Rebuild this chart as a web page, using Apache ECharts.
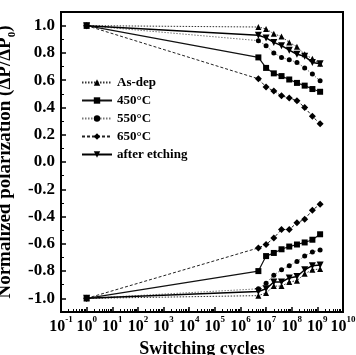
<!DOCTYPE html>
<html><head><meta charset="utf-8">
<script src="https://cdn.jsdelivr.net/npm/echarts@6/dist/echarts.min.js"></script>
<style>html,body{margin:0;padding:0;background:#fff}#c{width:356px;height:355px}</style>
</head><body><div id="c"></div>
<script>
const cycles = [1, 5e6, 1e7, 2e7, 4e7, 8e7, 1.6e8, 3.2e8, 6.4e8, 1.28e9];
const xTickExponents = [-1,0,1,2,3,4,5,6,7,8,9,10];
const yTickLabels = [-1.0,-0.8,-0.6,-0.4,-0.2,0.0,0.2,0.4,0.6,0.8,1.0];
const seriesNames = ['As-dep','450°C','550°C','650°C','after etching'];
const asdepTop = [1.0, 0.99, 0.976, 0.94, 0.92, 0.877, 0.845, 0.79, 0.757, 0.72];
const asdepBot = [-1.0, -0.98, -0.96, -0.91, -0.91, -0.88, -0.87, -0.82, -0.79, -0.785];
const t450Top = [1.0, 0.767, 0.69, 0.65, 0.63, 0.605, 0.58, 0.56, 0.535, 0.515];
const t450Bot = [-1.0, -0.80, -0.69, -0.667, -0.64, -0.62, -0.605, -0.59, -0.57, -0.53];
const t550Top = [1.0, 0.89, 0.853, 0.80, 0.767, 0.75, 0.73, 0.69, 0.645, 0.595];
const t550Bot = [-1.0, -0.93, -0.89, -0.83, -0.79, -0.76, -0.73, -0.69, -0.66, -0.645];
const t650Top = [1.0, 0.61, 0.55, 0.52, 0.485, 0.47, 0.45, 0.40, 0.335, 0.28];
const t650Bot = [-1.0, -0.63, -0.605, -0.557, -0.495, -0.495, -0.446, -0.42, -0.353, -0.31];
const etchTop = [1.0, 0.93, 0.91, 0.877, 0.853, 0.82, 0.79, 0.775, 0.73, 0.72];
const etchBot = [-1.0, -0.95, -0.93, -0.88, -0.88, -0.85, -0.84, -0.79, -0.76, -0.755];

const FONT = '"Liberation Serif", "DejaVu Serif", serif';
const pair = (ys) => cycles.map((x, i) => [x, ys[i]]);
const styles = {
  'As-dep': {symbol: 'triangle', size: 6, line: {type: [1.5,1.5], width: 1, color: '#333'}},
  '450°C': {symbol: 'rect', size: 6, line: {type: 'solid', width: 1.2, color: '#111'}},
  '550°C': {symbol: 'circle', size: 5, line: {type: [1.5,1.5], width: 1, color: '#777'}},
  '650°C': {symbol: 'diamond', size: 7, line: {type: [3,2], width: 1, color: '#222'}},
  'after etching': {symbol: 'triangle', rotate: 180, size: 7, line: {type: 'solid', width: 1.5, color: '#000'}}
};
const dataMap = {
  'As-dep': [asdepTop, asdepBot],
  '450°C': [t450Top, t450Bot],
  '550°C': [t550Top, t550Bot],
  '650°C': [t650Top, t650Bot],
  'after etching': [etchTop, etchBot]
};
const series = [];
seriesNames.forEach(n => {
  dataMap[n].forEach(arr => {
    const s = styles[n];
    series.push({
      name: n, type: 'line', xAxisIndex: 0, yAxisIndex: 0,
      data: pair(arr), symbol: s.symbol, symbolSize: s.size, symbolRotate: s.rotate || 0,
      itemStyle: {color: '#000'}, lineStyle: s.line, animation: false
    });
  });
});
const minorX = [];
for (let e = -1; e < 10; e++) for (let k = 2; k <= 9; k++) minorX.push(k * Math.pow(10, e));
const minorY = [];
for (let v = -11; v <= 11; v += 2) minorY.push(v / 10);

const chart = echarts.init(document.getElementById('c'));
chart.setOption({
  backgroundColor: '#fff',
  animation: false,
  grid: {left: 61, right: 13, top: 12, bottom: 43, show: true, borderColor: '#000', borderWidth: 2,
         containLabel: false, outerBoundsMode: 'none'},
  legend: {
    left: 76, top: 71, orient: 'vertical', itemGap: 5, itemWidth: 30, itemHeight: 8,
    data: seriesNames,
    textStyle: {fontFamily: FONT, fontWeight: 'bold', fontSize: 13, color: '#000'}
  },
  xAxis: [{
    type: 'log', logBase: 10, min: 0.1, max: 1e10,
    axisLine: {onZero: false, lineStyle: {color: '#000', width: 2}},
    axisTick: {inside: true, length: 5, customValues: xTickExponents.map(e => Math.pow(10, e)), lineStyle: {width: 1.5}},
    splitLine: {show: false},
    axisLabel: {
      customValues: xTickExponents.map(e => Math.pow(10, e)),
      margin: 3,
      formatter: v => '{a|10}{b|' + Math.round(Math.log10(v)) + '}',
      rich: {
        a: {fontFamily: FONT, fontWeight: 'bold', fontSize: 16, color: '#000', lineHeight: 20, verticalAlign: 'bottom'},
        b: {fontFamily: FONT, fontWeight: 'bold', fontSize: 9, color: '#000', lineHeight: 10, verticalAlign: 'top'}
      }
    },
    name: 'Switching cycles', nameLocation: 'middle', nameGap: 21,
    nameTextStyle: {fontFamily: FONT, fontWeight: 'bold', fontSize: 18, color: '#000'}
  }, {
    type: 'log', logBase: 10, min: 0.1, max: 1e10, position: 'bottom',
    axisLine: {show: false, onZero: false},
    axisTick: {inside: true, length: 3, customValues: minorX, lineStyle: {color: '#000'}},
    axisLabel: {show: false}, splitLine: {show: false}
  }],
  yAxis: [{
    type: 'value', min: -1.1, max: 1.1,
    axisLine: {onZero: false, lineStyle: {color: '#000', width: 2}},
    axisTick: {inside: true, length: 5, customValues: yTickLabels, lineStyle: {width: 1.5}},
    splitLine: {show: false},
    axisLabel: {
      customValues: yTickLabels, margin: 6,
      formatter: v => v.toFixed(1),
      fontFamily: FONT, fontWeight: 'bold', fontSize: 17, color: '#000'
    },
    name: '{n|Normalized polarization (ΔP/ΔP}{s|0}{n|)}',
    nameLocation: 'middle', nameGap: 34, nameRotate: 90,
    nameTextStyle: {
      fontFamily: FONT, fontWeight: 'bold', fontSize: 19,
      rich: {
        n: {fontFamily: FONT, fontWeight: 'bold', fontSize: 19, color: '#000', lineHeight: 22, verticalAlign: 'top'},
        s: {fontFamily: FONT, fontWeight: 'bold', fontSize: 11, color: '#000', lineHeight: 11, verticalAlign: 'bottom'}
      }
    }
  }, {
    type: 'value', min: -1.1, max: 1.1, position: 'left',
    axisLine: {show: false, onZero: false},
    axisTick: {inside: true, length: 3, customValues: minorY, lineStyle: {color: '#000'}},
    axisLabel: {show: false}, splitLine: {show: false}
  }],
  series: series
});
</script></body></html>
